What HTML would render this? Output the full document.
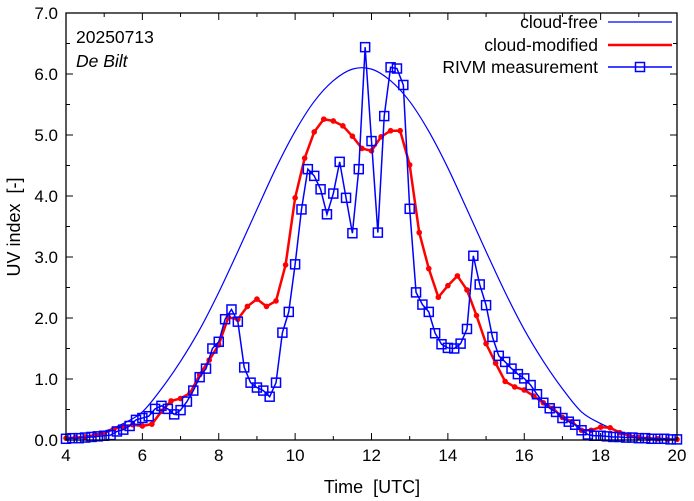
<!DOCTYPE html>
<html><head><meta charset="utf-8"><style>
html,body{margin:0;padding:0;background:#fff;}
svg{display:block;font-family:"Liberation Sans",sans-serif;}
</style></head><body>
<svg id="chart" width="694" height="501" viewBox="0 0 694 501" xmlns="http://www.w3.org/2000/svg">
<rect width="694" height="501" fill="#fff"/>
<g id="grid"></g>
<g id="series"></g>
<rect x="66" y="13" width="611" height="427" fill="none" stroke="#000" stroke-width="1.3"/>
<text x="76" y="43" font-size="17.5">20250713</text>
<text x="76" y="67" font-size="17.5" font-style="italic">De Bilt</text>
<text x="372" y="493" font-size="18" text-anchor="middle" xml:space="preserve">Time  [UTC]</text>
<text x="0" y="0" font-size="18" text-anchor="middle" transform="translate(20,227) rotate(-90)" xml:space="preserve">UV index  [-]</text>
<g>
<text x="598" y="28" font-size="17.5" text-anchor="end">cloud-free</text>
<line x1="608" y1="22" x2="672" y2="22" stroke="#0000ff" stroke-width="1.2"/>
<text x="598" y="51" font-size="17.5" text-anchor="end">cloud-modified</text>
<line x1="608" y1="45" x2="672" y2="45" stroke="#ff0000" stroke-width="2.5"/>
<text x="598" y="73" font-size="17.5" text-anchor="end">RIVM measurement</text>
<line x1="608" y1="67" x2="672" y2="67" stroke="#0000ff" stroke-width="1.5"/>
<rect x="635.5" y="62.5" width="9" height="9" fill="none" stroke="#0000ff" stroke-width="1.5"/>
</g>
</svg>
<script>
const clearTimes = [4,4.5,5,5.5,6,6.5,7,7.5,8,8.5,9,9.5,10,10.5,11,11.5,12,12.5,13,13.5,14,14.5,15,15.5,16,16.5,17,17.5,18,18.5,19,19.5,20];
const clearValues = [0.02,0.05,0.14,0.27,0.46,0.84,1.29,1.81,2.42,3.09,3.78,4.46,5.06,5.55,5.89,6.08,6.08,5.89,5.55,5.06,4.46,3.78,3.09,2.42,1.81,1.29,0.84,0.46,0.27,0.14,0.05,0.02,0.01];
const modStart = 4, modStep = 0.25;
const modValues = [0.03,0.04,0.05,0.08,0.11,0.18,0.22,0.25,0.23,0.26,0.47,0.64,0.68,0.77,1.07,1.31,1.56,2.01,1.98,2.19,2.31,2.19,2.28,2.87,3.97,4.62,5.05,5.26,5.23,5.15,4.98,4.78,4.74,4.97,5.07,5.07,4.51,3.40,2.81,2.34,2.53,2.69,2.46,2.04,1.58,1.26,0.96,0.87,0.82,0.72,0.61,0.52,0.37,0.30,0.16,0.16,0.21,0.20,0.12,0.07,0.04,0.03,0.02,0.01,0.01];
const measStart = 4, measStep = 1/6;
const measValues = [0.02,0.03,0.03,0.04,0.05,0.06,0.07,0.08,0.14,0.17,0.23,0.33,0.36,0.39,0.51,0.56,0.51,0.42,0.49,0.63,0.81,1.03,1.17,1.50,1.61,1.98,2.14,1.94,1.19,0.94,0.86,0.81,0.71,0.94,1.76,2.10,2.88,3.78,4.44,4.33,4.11,3.70,4.04,4.56,3.97,3.39,4.44,6.44,4.90,3.40,5.31,6.11,6.09,5.82,3.79,2.42,2.22,2.10,1.75,1.57,1.51,1.50,1.58,1.82,3.02,2.55,2.21,1.69,1.38,1.28,1.17,1.08,1.01,0.90,0.75,0.61,0.52,0.46,0.36,0.30,0.25,0.16,0.09,0.07,0.07,0.06,0.05,0.05,0.04,0.04,0.03,0.03,0.02,0.02,0.02,0.01,0.01];
const xTicks = [4,6,8,10,12,14,16,18,20];
const yTicks = ["0.0","1.0","2.0","3.0","4.0","5.0","6.0","7.0"];

const NS = "http://www.w3.org/2000/svg";
const X0=66, X1=677, Y0=440, Y1=13;
function xs(t){return X0+(t-4)/16*(X1-X0);}
function ys(v){return Y0-v/7*(Y0-Y1);}
function mk(tag,attrs,parent){const e=document.createElementNS(NS,tag);for(const k in attrs)e.setAttribute(k,attrs[k]);parent.appendChild(e);return e;}

const grid=document.getElementById('grid');
for(let h=4;h<=20;h++){
  const x=xs(h), L=(h%2===0)?7:4;
  const a=mk('line',{x1:x,y1:Y0,x2:x,y2:Y0-L,stroke:'#000','stroke-width':1},grid);
  
  
  const b=mk('line',{x1:x,y1:Y1,x2:x,y2:Y1+L,stroke:'#000','stroke-width':1},grid);
  
  
}
xTicks.forEach(t=>{
  const tx=mk('text',{x:xs(t),y:Y0+21,'font-size':17,'text-anchor':'middle'},grid);
  tx.textContent=String(t);
  
  
});
for(let i=0;i<=14;i++){
  const v=i/2, y=ys(v), L=(i%2===0)?7:4;
  const a=mk('line',{x1:X0,y1:y,x2:X0+L,y2:y,stroke:'#000','stroke-width':1},grid);
  
  
  const b=mk('line',{x1:X1,y1:y,x2:X1-L,y2:y,stroke:'#000','stroke-width':1},grid);
  
  
}
yTicks.forEach(s=>{
  const tx=mk('text',{x:X0-8,y:ys(parseFloat(s))+6,'font-size':17,'text-anchor':'end'},grid);
  tx.textContent=s;
  
  
});

const ser=document.getElementById('series');
const pts=clearTimes.map((t,i)=>[xs(t),ys(clearValues[i])]);
let d="M"+pts[0][0]+","+pts[0][1];
for(let i=0;i<pts.length-1;i++){
  const p0=pts[Math.max(0,i-1)],p1=pts[i],p2=pts[i+1],p3=pts[Math.min(pts.length-1,i+2)];
  const c1=[p1[0]+(p2[0]-p0[0])/6,p1[1]+(p2[1]-p0[1])/6];
  const c2=[p2[0]-(p3[0]-p1[0])/6,p2[1]-(p3[1]-p1[1])/6];
  d+=" C"+c1.join(",")+" "+c2.join(",")+" "+p2.join(",");
}
const cf=mk('path',{d:d,fill:'none',stroke:'#0000ff','stroke-width':1.2},ser);



const mp=modValues.map((v,i)=>xs(modStart+i*modStep)+","+ys(v)).join(" ");
const ml=mk('polyline',{points:mp,fill:'none',stroke:'#ff0000','stroke-width':2.5,'stroke-linejoin':'round'},ser);


modValues.forEach((v,i)=>{
  const c=mk('circle',{cx:xs(modStart+i*modStep),cy:ys(v),r:2.8,fill:'#ff0000'},ser);
  
  
});

const pp=measValues.map((v,i)=>xs(measStart+i*measStep)+","+ys(v)).join(" ");
const pl=mk('polyline',{points:pp,fill:'none',stroke:'#0000ff','stroke-width':1.5},ser);


measValues.forEach((v,i)=>{
  const r=mk('rect',{x:xs(measStart+i*measStep)-4.5,y:ys(v)-4.5,width:9,height:9,fill:'none',stroke:'#0000ff','stroke-width':1.5},ser);
  
  
});
</script>
</body></html>
